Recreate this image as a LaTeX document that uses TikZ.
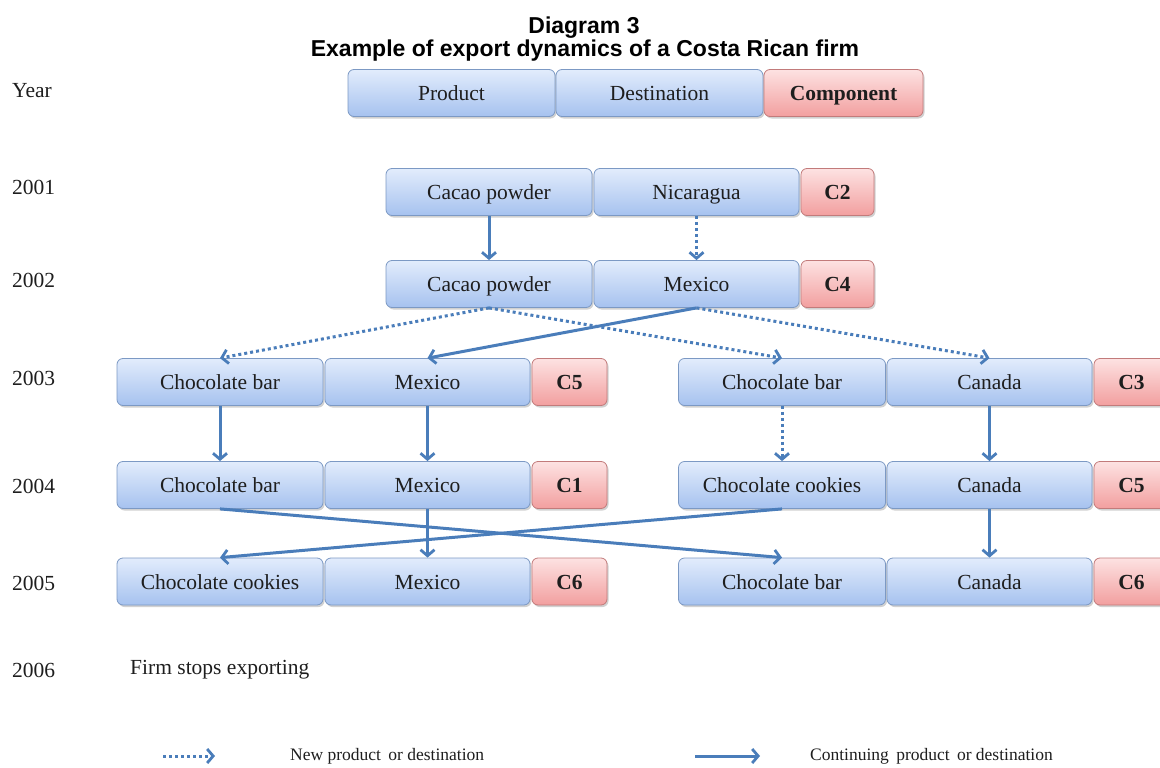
\documentclass[tikz,border=0pt]{standalone}
\usepackage{fontspec}
\setmainfont{Liberation Serif}
\newfontfamily\titlefont{Liberation Sans}
\usetikzlibrary{arrows.meta,shadows}
\definecolor{bluetop}{HTML}{E2ECFC}
\definecolor{bluebot}{HTML}{A6C2EF}
\definecolor{blueline}{HTML}{7C99C4}
\definecolor{redtop}{HTML}{FDE2E2}
\definecolor{redbot}{HTML}{F29F9F}
\definecolor{redline}{HTML}{C27B7B}
\definecolor{arrowc}{HTML}{4A7DBA}
\definecolor{txt}{HTML}{1E1E1E}
\tikzset{
  cell/.style={rounded corners=6pt, draw=blueline, line width=0.8pt,
    top color=bluetop, bottom color=bluebot, minimum height=47pt, inner sep=0pt,
    text=txt, font=\fontsize{21.5}{23}\selectfont, text height=17pt, text depth=2pt,
    drop shadow={shadow xshift=1.5pt, shadow yshift=-2pt, opacity=0.3, fill=black!60}},
  comp/.style={cell, draw=redline, top color=redtop, bottom color=redbot,
    font=\fontsize{21.5}{23}\selectfont\bfseries},
  yearlab/.style={anchor=west, inner sep=0pt, text=txt, font=\fontsize{21.5}{23}\selectfont},
  legtext/.style={anchor=west, inner sep=0pt, text=txt, font=\fontsize{17.5}{19}\selectfont},
  titletext/.style={anchor=base, inner sep=0pt, text=black, font=\titlefont\bfseries\fontsize{23}{23}\selectfont},
  cont/.style={draw=arrowc, line width=3pt, -{Straight Barb[length=6pt,width=14pt,line width=2.8pt]}},
  newp/.style={cont, dash pattern=on 3pt off 3pt},
}
\begin{document}
\begin{tikzpicture}[x=1pt,y=-1pt]
\useasboundingbox (0,0) rectangle (1160,768);
\clip (0,0) rectangle (1160,768);
% title
\node[titletext] (title1) at (584,34) {Diagram 3};
\node[titletext] (title2) at (585,57) {Example of export dynamics of a Costa Rican firm};
% year labels
\node[yearlab] (yYear) at (12,91) {Year};
\node[yearlab] (y2001) at (12,187) {2001};
\node[yearlab] (y2002) at (12,280) {2002};
\node[yearlab] (y2003) at (12,378) {2003};
\node[yearlab] (y2004) at (12,486) {2004};
\node[yearlab] (y2005) at (12,583) {2005};
\node[yearlab] (y2006) at (12,670) {2006};
\node[yearlab] (stop) at (130,670) {Firm stops exporting};
% header
\node[cell, minimum width=207pt] (hp) at (451.5,93) {Product};
\node[cell, minimum width=207pt] (hd) at (659.5,93) {Destination};
\node[comp, minimum width=159pt] (hc) at (843.5,93) {Component};
% 2001
\node[cell, minimum width=206pt] (p1) at (489,192) {Cacao powder};
\node[cell, minimum width=205pt] (d1) at (696.5,192) {Nicaragua};
\node[comp, minimum width=73pt] (c1) at (837.5,192) {C2};
% 2002
\node[cell, minimum width=206pt] (p2) at (489,284) {Cacao powder};
\node[cell, minimum width=205pt] (d2) at (696.5,284) {Mexico};
\node[comp, minimum width=73pt] (c2) at (837.5,284) {C4};
% 2003
\node[cell, minimum width=206pt] (lp3) at (220,382) {Chocolate bar};
\node[cell, minimum width=205pt] (ld3) at (427.5,382) {Mexico};
\node[comp, minimum width=75pt] (lc3) at (569.5,382) {C5};
\node[cell, minimum width=207pt] (rp3) at (782,382) {Chocolate bar};
\node[cell, minimum width=205pt] (rd3) at (989.5,382) {Canada};
\node[comp, minimum width=75pt] (rc3) at (1131.5,382) {C3};
% 2004
\node[cell, minimum width=206pt] (lp4) at (220,485) {Chocolate bar};
\node[cell, minimum width=205pt] (ld4) at (427.5,485) {Mexico};
\node[comp, minimum width=75pt] (lc4) at (569.5,485) {C1};
\node[cell, minimum width=207pt] (rp4) at (782,485) {Chocolate cookies};
\node[cell, minimum width=205pt] (rd4) at (989.5,485) {Canada};
\node[comp, minimum width=75pt] (rc4) at (1131.5,485) {C5};
% 2005
\node[cell, minimum width=206pt] (lp5) at (220,581.5) {Chocolate cookies};
\node[cell, minimum width=205pt] (ld5) at (427.5,581.5) {Mexico};
\node[comp, minimum width=75pt] (lc5) at (569.5,581.5) {C6};
\node[cell, minimum width=207pt] (rp5) at (782,581.5) {Chocolate bar};
\node[cell, minimum width=205pt] (rd5) at (989.5,581.5) {Canada};
\node[comp, minimum width=75pt] (rc5) at (1131.5,581.5) {C6};
% arrows 2001 -> 2002
\draw[cont] (p1.south) -- (p2.north);
\draw[newp] (d1.south) -- (d2.north);
% 2002 -> 2003
\draw[newp] (p2.south) -- (lp3.north);
\draw[newp] (p2.south) -- (rp3.north);
\draw[cont] (d2.south) -- (ld3.north);
\draw[newp] (d2.south) -- (rd3.north);
% 2003 -> 2004
\draw[cont] (lp3.south) -- (lp4.north);
\draw[cont] (ld3.south) -- (ld4.north);
\draw[newp] (rp3.south) -- (rp4.north);
\draw[cont] (rd3.south) -- (rd4.north);
% 2004 -> 2005
\draw[cont] (lp4.south) -- (rp5.north);
\draw[cont] (ld4.south) -- (ld5.north);
\draw[cont] (rp4.south) -- (lp5.north);
\draw[cont] (rd4.south) -- (rd5.north);
% legend
\coordinate (n1) at (163,756);
\coordinate (n2) at (215,756);
\draw[newp] (n1) -- (n2);
\node[legtext] (newtext) at (290,756) {New product\, or destination};
\coordinate (c1a) at (695,756);
\coordinate (c2a) at (760,756);
\draw[cont] (c1a) -- (c2a);
\node[legtext] (conttext) at (810,756) {Continuing\, product\, or destination};
\end{tikzpicture}
\end{document}
